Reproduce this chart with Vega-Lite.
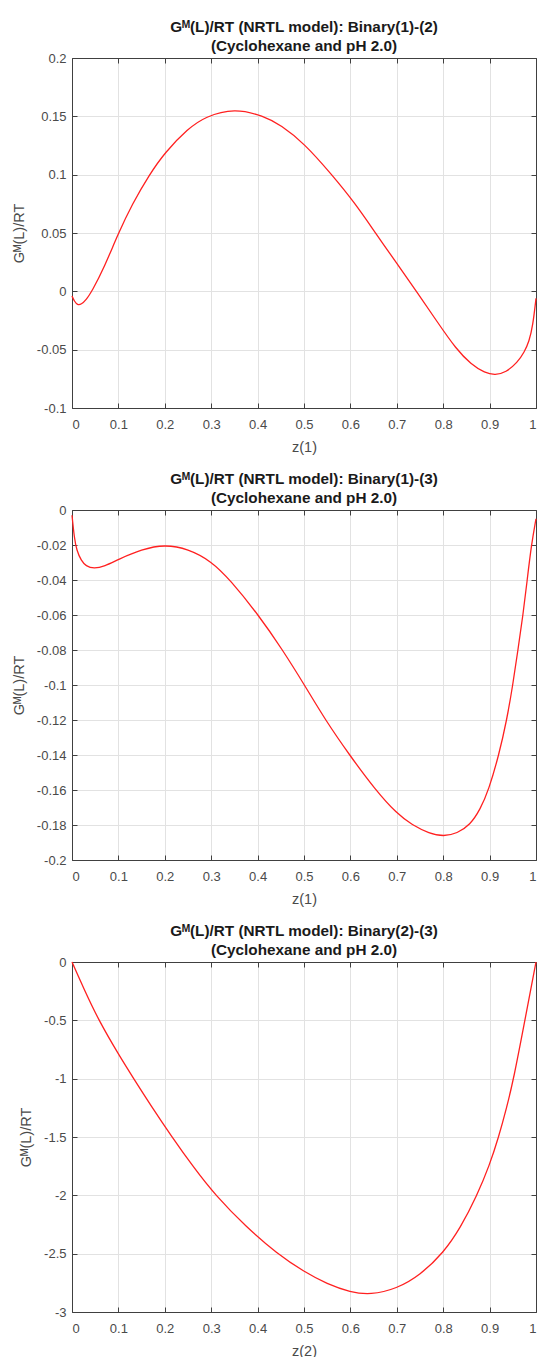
{
  "$schema": "https://vega.github.io/schema/vega-lite/v6.json",
  "autosize": {"type": "pad"},
  "padding": {"left": 11, "top": 19, "right": 2, "bottom": 2},
  "background": "white",
  "datasets": {
    "b12": [
      {"z": 0, "g": -0.004}, {"z": 0.005, "g": -0.0085}, {"z": 0.012, "g": -0.0118}, {"z": 0.02, "g": -0.0112},
      {"z": 0.03, "g": -0.0075}, {"z": 0.043, "g": 0}, {"z": 0.07, "g": 0.021}, {"z": 0.099, "g": 0.049},
      {"z": 0.13, "g": 0.075}, {"z": 0.1667, "g": 0.1}, {"z": 0.2, "g": 0.119}, {"z": 0.25, "g": 0.1395},
      {"z": 0.287, "g": 0.1497}, {"z": 0.35, "g": 0.157}, {"z": 0.413, "g": 0.1503}, {"z": 0.45, "g": 0.1425},
      {"z": 0.5, "g": 0.127}, {"z": 0.56, "g": 0.1}, {"z": 0.61, "g": 0.0755}, {"z": 0.654, "g": 0.05},
      {"z": 0.7, "g": 0.024}, {"z": 0.744, "g": -0.001}, {"z": 0.786, "g": -0.0255}, {"z": 0.828, "g": -0.0496},
      {"z": 0.86, "g": -0.0625}, {"z": 0.89, "g": -0.07}, {"z": 0.912, "g": -0.0718}, {"z": 0.935, "g": -0.0695},
      {"z": 0.96, "g": -0.061}, {"z": 0.975, "g": -0.052}, {"z": 0.985, "g": -0.043}, {"z": 0.993, "g": -0.03},
      {"z": 1, "g": -0.006}
    ],
    "b13": [
      {"z": 0, "g": -0.003}, {"z": 0.005, "g": -0.016}, {"z": 0.01, "g": -0.023}, {"z": 0.02, "g": -0.029},
      {"z": 0.03, "g": -0.032}, {"z": 0.047, "g": -0.0336}, {"z": 0.07, "g": -0.0322}, {"z": 0.1, "g": -0.0282},
      {"z": 0.15, "g": -0.0225}, {"z": 0.2, "g": -0.0197}, {"z": 0.25, "g": -0.0222}, {"z": 0.3, "g": -0.0292},
      {"z": 0.341, "g": -0.04}, {"z": 0.402, "g": -0.06}, {"z": 0.454, "g": -0.08}, {"z": 0.501, "g": -0.1},
      {"z": 0.546, "g": -0.12}, {"z": 0.598, "g": -0.14}, {"z": 0.654, "g": -0.16}, {"z": 0.7, "g": -0.1735},
      {"z": 0.733, "g": -0.18}, {"z": 0.77, "g": -0.1848}, {"z": 0.801, "g": -0.1866}, {"z": 0.83, "g": -0.1848},
      {"z": 0.858, "g": -0.18}, {"z": 0.88, "g": -0.171}, {"z": 0.898, "g": -0.16}, {"z": 0.92, "g": -0.14},
      {"z": 0.937, "g": -0.12}, {"z": 0.95, "g": -0.1}, {"z": 0.961, "g": -0.08}, {"z": 0.972, "g": -0.06},
      {"z": 0.981, "g": -0.04}, {"z": 0.99, "g": -0.02}, {"z": 1, "g": -0.005}
    ],
    "b23": [
      {"z": 0, "g": 0}, {"z": 0.025, "g": -0.225}, {"z": 0.0575, "g": -0.5}, {"z": 0.1, "g": -0.79},
      {"z": 0.133, "g": -1}, {"z": 0.17, "g": -1.23}, {"z": 0.2155, "g": -1.5}, {"z": 0.262, "g": -1.76},
      {"z": 0.309, "g": -2}, {"z": 0.375, "g": -2.27}, {"z": 0.442, "g": -2.5}, {"z": 0.5, "g": -2.655},
      {"z": 0.55, "g": -2.76}, {"z": 0.6, "g": -2.83}, {"z": 0.643, "g": -2.854}, {"z": 0.7, "g": -2.8},
      {"z": 0.75, "g": -2.685}, {"z": 0.801, "g": -2.49}, {"z": 0.837, "g": -2.28}, {"z": 0.873, "g": -2},
      {"z": 0.9, "g": -1.74}, {"z": 0.9195, "g": -1.5}, {"z": 0.936, "g": -1.26}, {"z": 0.952, "g": -1},
      {"z": 0.976, "g": -0.5}, {"z": 0.988, "g": -0.25}, {"z": 1, "g": 0}
    ]
  },
  "vconcat": [
    {
      "width": 464, "height": 350,
      "data": {"name": "b12"},
      "title": {"text": ["Gᴹ(L)/RT (NRTL model): Binary(1)-(2)", "(Cyclohexane and pH 2.0)"]},
      "layer": [
        {
          "mark": {"type": "line", "color": "#ff2020", "strokeWidth": 1.3, "interpolate": "basis"},
          "encoding": {
            "x": {"field": "z", "type": "quantitative", "scale": {"domain": [0, 1], "nice": false},
                  "axis": {"title": "z(1)", "labelPadding": 15, "titlePadding": 9, "values": [0, 0.1, 0.2, 0.3, 0.4, 0.5, 0.6, 0.7, 0.8, 0.9, 1]}},
            "y": {"field": "g", "type": "quantitative", "scale": {"domain": [-0.1, 0.2], "nice": false, "zero": false},
                  "axis": {"title": "Gᴹ(L)/RT", "values": [-0.1, -0.05, 0, 0.05, 0.1, 0.15, 0.2]}}
          }
        },
        {
          "mark": {"type": "line", "strokeOpacity": 0},
          "encoding": {
            "x": {"field": "z", "type": "quantitative", "scale": {"domain": [0, 1], "nice": false},
                  "axis": {"orient": "top", "title": null, "labels": false, "grid": false, "values": [0, 0.1, 0.2, 0.3, 0.4, 0.5, 0.6, 0.7, 0.8, 0.9, 1]}},
            "y": {"field": "g", "type": "quantitative", "scale": {"domain": [-0.1, 0.2], "nice": false, "zero": false},
                  "axis": {"orient": "right", "title": null, "labels": false, "grid": false, "values": [-0.1, -0.05, 0, 0.05, 0.1, 0.15, 0.2]}}
          }
        }
      ],
      "resolve": {"scale": {"x": "independent", "y": "independent"}}
    },
    {
      "width": 464, "height": 350,
      "data": {"name": "b13"},
      "title": {"text": ["Gᴹ(L)/RT (NRTL model): Binary(1)-(3)", "(Cyclohexane and pH 2.0)"]},
      "layer": [
        {
          "mark": {"type": "line", "color": "#ff2020", "strokeWidth": 1.3, "interpolate": "basis"},
          "encoding": {
            "x": {"field": "z", "type": "quantitative", "scale": {"domain": [0, 1], "nice": false},
                  "axis": {"title": "z(1)", "labelPadding": 15, "titlePadding": 9, "values": [0, 0.1, 0.2, 0.3, 0.4, 0.5, 0.6, 0.7, 0.8, 0.9, 1]}},
            "y": {"field": "g", "type": "quantitative", "scale": {"domain": [-0.2, 0], "nice": false, "zero": false},
                  "axis": {"title": "Gᴹ(L)/RT", "values": [-0.2, -0.18, -0.16, -0.14, -0.12, -0.1, -0.08, -0.06, -0.04, -0.02, 0]}}
          }
        },
        {
          "mark": {"type": "line", "strokeOpacity": 0},
          "encoding": {
            "x": {"field": "z", "type": "quantitative", "scale": {"domain": [0, 1], "nice": false},
                  "axis": {"orient": "top", "title": null, "labels": false, "grid": false, "values": [0, 0.1, 0.2, 0.3, 0.4, 0.5, 0.6, 0.7, 0.8, 0.9, 1]}},
            "y": {"field": "g", "type": "quantitative", "scale": {"domain": [-0.2, 0], "nice": false, "zero": false},
                  "axis": {"orient": "right", "title": null, "labels": false, "grid": false, "values": [-0.2, -0.18, -0.16, -0.14, -0.12, -0.1, -0.08, -0.06, -0.04, -0.02, 0]}}
          }
        }
      ],
      "resolve": {"scale": {"x": "independent", "y": "independent"}}
    },
    {
      "width": 464, "height": 350,
      "data": {"name": "b23"},
      "title": {"text": ["Gᴹ(L)/RT (NRTL model): Binary(2)-(3)", "(Cyclohexane and pH 2.0)"]},
      "layer": [
        {
          "mark": {"type": "line", "color": "#ff2020", "strokeWidth": 1.3, "interpolate": "basis"},
          "encoding": {
            "x": {"field": "z", "type": "quantitative", "scale": {"domain": [0, 1], "nice": false},
                  "axis": {"title": "z(2)", "labelPadding": 15, "titlePadding": 9, "values": [0, 0.1, 0.2, 0.3, 0.4, 0.5, 0.6, 0.7, 0.8, 0.9, 1]}},
            "y": {"field": "g", "type": "quantitative", "scale": {"domain": [-3, 0], "nice": false, "zero": false},
                  "axis": {"title": "Gᴹ(L)/RT", "values": [-3, -2.5, -2, -1.5, -1, -0.5, 0]}}
          }
        },
        {
          "mark": {"type": "line", "strokeOpacity": 0},
          "encoding": {
            "x": {"field": "z", "type": "quantitative", "scale": {"domain": [0, 1], "nice": false},
                  "axis": {"orient": "top", "title": null, "labels": false, "grid": false, "values": [0, 0.1, 0.2, 0.3, 0.4, 0.5, 0.6, 0.7, 0.8, 0.9, 1]}},
            "y": {"field": "g", "type": "quantitative", "scale": {"domain": [-3, 0], "nice": false, "zero": false},
                  "axis": {"orient": "right", "title": null, "labels": false, "grid": false, "values": [-3, -2.5, -2, -1.5, -1, -0.5, 0]}}
          }
        }
      ],
      "resolve": {"scale": {"x": "independent", "y": "independent"}}
    }
  ],
  "bounds": "flush",
  "spacing": 102,
  "config": {
    "view": {"stroke": null},
    "axis": {
      "labelFont": "Liberation Sans", "labelFontSize": 13, "labelColor": "#4a4a4a",
      "labelExpr": "'' + datum.value",
      "titleFont": "Liberation Sans", "titleFontSize": 14.5, "titleFontWeight": "normal", "titleColor": "#4a4a4a",
      "domainColor": "#404040", "domainWidth": 1, "tickColor": "#404040", "tickSize": -5, "tickWidth": 1,
      "gridColor": "#e2e2e2", "gridWidth": 1, "labelPadding": 11, "titlePadding": 10, "labelOverlap": false
    },
    "title": {
      "font": "Liberation Sans", "fontSize": 15.3, "fontWeight": "bold", "color": "#1a1a1a",
      "anchor": "middle", "lineHeight": 19, "offset": -2
    }
  }
}
